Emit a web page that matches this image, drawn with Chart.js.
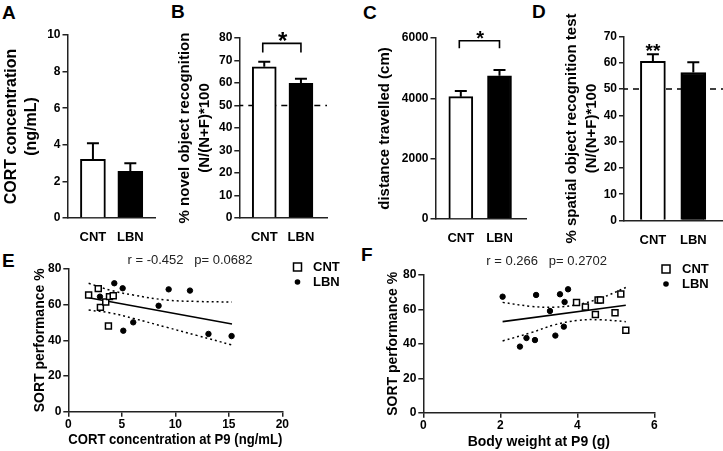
<!DOCTYPE html>
<html>
<head>
<meta charset="utf-8">
<script src="https://cdn.jsdelivr.net/npm/chart.js@4.4.0/dist/chart.umd.min.js"></script>
<style>
  body { margin: 0; background: #fff; width: 723px; height: 451px; position: relative; overflow: hidden; font-family: 'Liberation Sans', Arial, sans-serif; }
  canvas { position: absolute; }
  .lbl { position: absolute; font-weight: bold; font-size: 19px; line-height: 1; color: #000; }
</style>
</head>
<body>
<div class="lbl" style="left:2px;top:3px">A</div>
<div class="lbl" style="left:171px;top:2px">B</div>
<div class="lbl" style="left:363px;top:3px">C</div>
<div class="lbl" style="left:532px;top:2px">D</div>
<div class="lbl" style="left:2px;top:251px">E</div>
<div class="lbl" style="left:361px;top:245px">F</div>

<canvas id="cA" width="165" height="250" style="left:0;top:0"></canvas>
<canvas id="cB" width="170" height="250" style="left:165px;top:0"></canvas>
<canvas id="cC" width="192" height="250" style="left:340px;top:0"></canvas>
<canvas id="cD" width="191" height="250" style="left:532px;top:0"></canvas>
<canvas id="cE" width="360" height="206" style="left:0;top:245px"></canvas>
<canvas id="cF" width="363" height="206" style="left:360px;top:245px"></canvas>

<script>
// groups
const groups = ['CNT', 'LBN'];

// bar panels: mean and SEM
const cortMean = [3.21, 2.55];
const cortSem = [0.87, 0.44];
const norMean = [67.2, 59.9];
const norSem = [2.3, 2.0];
const distMean = [4054, 4750];
const distSem = [189, 190];
const sorMean = [60.6, 56.3];
const sorSem = [2.6, 3.9];

// E: SORT vs CORT at P9
const eCnt = [[1.9, 65.4], [2.8, 69.0], [3.0, 58.5], [3.5, 61.5], [3.85, 64.5], [4.2, 65.0], [3.75, 48.0]];
const eLbn = [[2.96, 64.5], [4.3, 72.0], [5.08, 69.2], [6.07, 50.1], [5.14, 45.4], [8.44, 59.4], [9.38, 68.6], [11.37, 67.9], [13.1, 43.6], [15.26, 42.4]];
const eFit = [[1.9, 63.9], [15.3, 49.2]];
const eUpper = [[1.9, 72.0], [4.0, 68.0], [6.07, 65.4], [9.2, 62.6], [12.0, 61.8], [15.3, 61.5]];
const eLower = [[1.9, 57.0], [4.0, 55.3], [6.07, 52.3], [9.2, 47.3], [12.0, 42.8], [15.3, 37.4]];

// F: SORT vs body weight at P9
const fCnt = [[3.98, 64.0], [4.21, 61.4], [4.47, 57.0], [4.54, 65.5], [4.6, 65.5], [4.98, 58.1], [5.13, 69.0], [5.26, 47.9]];
const fLbn = [[2.06, 67.4], [2.51, 38.4], [2.68, 43.4], [2.9, 42.2], [2.93, 68.4], [3.29, 59.1], [3.43, 44.8], [3.55, 68.8], [3.65, 50.0], [3.67, 64.3], [3.76, 71.7]];
const fFit = [[2.06, 52.9], [5.26, 62.4]];
const fUpper = [[2.06, 64.1], [2.8, 61.8], [3.4, 61.3], [4.0, 62.8], [4.6, 66.5], [5.26, 72.7]];
const fLower = [[2.06, 41.7], [2.8, 46.5], [3.4, 51.0], [4.0, 53.6], [4.6, 54.0], [5.26, 52.9]];

Chart.defaults.font.family = "'Liberation Sans', Arial, sans-serif";
Chart.defaults.color = '#000';
Chart.defaults.animation = false;

const AXIS = '#222';
const toXY = (arr) => arr.map(([x, y]) => ({ x, y }));

const barExtras = {
  id: 'barExtras',
  afterDatasetsDraw(chart, args, opts) {
    const { ctx, scales: { x, y } } = chart;
    ctx.save();
    ctx.strokeStyle = '#000';
    ctx.lineWidth = 2;
    opts.mean.forEach((m, i) => {
      const px = x.getPixelForValue(i);
      const top = y.getPixelForValue(m + opts.sem[i]);
      const base = y.getPixelForValue(m);
      ctx.beginPath();
      ctx.moveTo(px, base);
      ctx.lineTo(px, top);
      ctx.moveTo(px - 6, top);
      ctx.lineTo(px + 6, top);
      ctx.stroke();
    });
    if (opts.bracket) {
      const [yTop, yLeg] = opts.bracket;
      const x0 = x.getPixelForValue(0) - 1.5, x1 = x.getPixelForValue(1);
      const t = y.getPixelForValue(yTop), l = y.getPixelForValue(yLeg);
      ctx.lineWidth = 1.6;
      ctx.beginPath();
      ctx.moveTo(x0, l);
      ctx.lineTo(x0, t);
      ctx.lineTo(x1, t);
      ctx.lineTo(x1, l);
      ctx.stroke();
    }
    if (opts.star) {
      const s = opts.star;
      ctx.font = 'bold ' + s.size + 'px ' + Chart.defaults.font.family;
      ctx.fillStyle = '#000';
      ctx.textAlign = 'center';
      ctx.textBaseline = 'alphabetic';
      ctx.fillText(s.text, x.getPixelForValue(s.at), y.getPixelForValue(s.y) + s.size * 0.57);
    }
    ctx.restore();
  }
};

function barPanel(id, o) {
  const datasets = [{
    type: 'bar',
    data: o.mean.map((v, i) => ({ x: i, y: v })),
    backgroundColor: ['#fff', '#000'],
    borderColor: '#000',
    borderWidth: 2,
    barThickness: o.barW,
    order: 0
  }];
  if (o.chance !== undefined) {
    datasets.push({
      type: 'line',
      data: [{ x: o.xMin, y: o.chance }, { x: o.xMax, y: o.chance }],
      borderColor: '#000',
      borderWidth: 1.6,
      borderDash: [6, 5],
      borderDashOffset: 2,
      pointRadius: 0,
      order: 1
    });
  }
  new Chart(document.getElementById(id), {
    data: { datasets },
    options: {
      responsive: false,
      devicePixelRatio: 1,
      layout: { padding: { top: o.padTop, right: o.padRight, left: 0, bottom: 0 } },
      plugins: {
        legend: { display: false },
        tooltip: { enabled: false },
        barExtras: { mean: o.mean, sem: o.sem, bracket: o.bracket, star: o.star }
      },
      scales: {
        x: {
          type: 'linear',
          offset: false,
          min: o.xMin,
          max: o.xMax,
          afterBuildTicks: (s) => { s.ticks = groups.map((g, i) => ({ value: i })); },
          afterFit: (s) => { s.height = o.xH; },
          ticks: { callback: (v) => groups[v], font: { size: 13, weight: 'bold' }, padding: 12, maxRotation: 0 },
          grid: { drawOnChartArea: false, drawTicks: false },
          border: { color: AXIS, width: 1.5 }
        },
        y: {
          min: 0,
          max: o.yMax,
          afterFit: (s) => { s.width = o.yW; },
          ticks: { stepSize: o.step, font: { size: 12, weight: 'bold' }, padding: 2, callback: (v) => String(v) },
          grid: { drawOnChartArea: false, drawTicks: true, tickLength: 5, color: AXIS, lineWidth: 1.5 },
          border: { color: AXIS, width: 1.5 },
          title: {
            display: true,
            text: o.title,
            font: { size: o.titleSize, weight: 'bold', lineHeight: o.titleLH },
            padding: { top: o.titlePad, bottom: 0 }
          }
        }
      }
    },
    plugins: [barExtras]
  });
}

barPanel('cA', {
  mean: cortMean, sem: cortSem, yMax: 10, step: 2, xMin: -0.68, xMax: 1.66,
  padTop: 35, padRight: 10, yW: 67.5, xH: 32, barW: 25,
  title: ['CORT concentration', '(ng/mL)'], titleSize: 16, titleLH: 1.25, titlePad: 2
});
barPanel('cB', {
  mean: norMean, sem: norSem, yMax: 80, step: 10, xMin: -0.68, xMax: 1.71,
  padTop: 38, padRight: 8, yW: 74.3, xH: 32, barW: 24, chance: 50,
  bracket: [77.6, 73.6], star: { text: '*', at: 0.5, y: 81.3, size: 24 },
  title: ['% novel object recognition', '(N/(N+F)*100'], titleSize: 15, titleLH: 1.333, titlePad: 10
});
barPanel('cC', {
  mean: distMean, sem: distSem, yMax: 6000, step: 2000, xMin: -0.654, xMax: 1.685,
  padTop: 38, padRight: 6, yW: 95.5, xH: 31, barW: 24,
  bracket: [5911, 5659], star: { text: '*', at: 0.5, y: 6133, size: 20 },
  title: 'distance travelled (cm)', titleSize: 15, titleLH: 1.25, titlePad: 35.6
});
barPanel('cD', {
  mean: sorMean, sem: sorSem, yMax: 70, step: 10, xMin: -0.715, xMax: 1.735,
  padTop: 36.5, padRight: 0, yW: 92, xH: 29.5, barW: 25, chance: 50,
  star: { text: '**', at: 0, y: 66.5, size: 19 },
  title: ['% spatial object recognition test', '(N/(N+F)*100'], titleSize: 15, titleLH: 1.333, titlePad: 30
});

const scatterExtras = {
  id: 'scatterExtras',
  afterDraw(chart, args, opts) {
    const { ctx } = chart;
    ctx.save();
    ctx.fillStyle = '#222';
    ctx.font = '13px ' + Chart.defaults.font.family;
    ctx.textAlign = 'center';
    ctx.textBaseline = 'middle';
    ctx.fillText(opts.stat, opts.statX, opts.statY);
    // legend
    const L = opts.legend;
    ctx.strokeStyle = '#000';
    ctx.lineWidth = 1.5;
    ctx.fillStyle = '#fff';
    ctx.fillRect(L.x - 4, L.y - 4, 8, 8);
    ctx.strokeRect(L.x - 4, L.y - 4, 8, 8);
    ctx.fillStyle = '#000';
    ctx.beginPath();
    ctx.arc(L.x, L.y + L.gap, 2.8, 0, Math.PI * 2);
    ctx.fill();
    ctx.font = 'bold 13px ' + Chart.defaults.font.family;
    ctx.textAlign = 'left';
    ctx.fillText(groups[0], L.tx, L.y);
    ctx.fillText(groups[1], L.tx, L.y + L.gap);
    ctx.restore();
  }
};

function scatterPanel(id, o) {
  const band = (pts) => ({
    type: 'line', data: toXY(pts), borderColor: '#000', borderWidth: 1.5, borderDash: [2, 3],
    pointRadius: 0, tension: 0.4, showLine: true, order: 2
  });
  new Chart(document.getElementById(id), {
    type: 'scatter',
    data: {
      datasets: [
        { label: groups[0], data: toXY(o.cnt), pointStyle: 'rect', pointRadius: 4.2, backgroundColor: '#fff', borderColor: '#000', borderWidth: 1.5, order: 0 },
        { label: groups[1], data: toXY(o.lbn), pointStyle: 'circle', pointRadius: 2.7, backgroundColor: '#000', borderColor: '#000', borderWidth: 1, order: 0 },
        { type: 'line', data: toXY(o.fit), borderColor: '#000', borderWidth: 1.6, pointRadius: 0, showLine: true, order: 1 },
        band(o.upper),
        band(o.lower)
      ]
    },
    options: {
      responsive: false,
      devicePixelRatio: 1,
      layout: { padding: { top: o.padTop, right: o.padRight, left: 0, bottom: 0 } },
      plugins: {
        legend: { display: false },
        tooltip: { enabled: false },
        scatterExtras: o.extras
      },
      scales: {
        x: {
          min: 0, max: o.xMax,
          afterFit: (s) => { s.height = o.xH; },
          ticks: { stepSize: o.xStep, font: { size: 12, weight: 'bold' }, padding: 1, maxRotation: 0 },
          grid: { drawOnChartArea: false, drawTicks: true, tickLength: 5, color: AXIS, lineWidth: 1.5 },
          border: { color: AXIS, width: 1.5 },
          title: { display: true, text: o.xTitle, font: { size: 14, weight: 'bold', lineHeight: 1.2 }, padding: { top: 0, bottom: o.xTitlePad } }
        },
        y: {
          min: 0, max: 80,
          afterFit: (s) => { s.width = o.yW; },
          ticks: { stepSize: 20, font: { size: 12, weight: 'bold' }, padding: 2 },
          grid: { drawOnChartArea: false, drawTicks: true, tickLength: 5, color: AXIS, lineWidth: 1.5 },
          border: { color: AXIS, width: 1.5 },
          title: { display: true, text: 'SORT performance %', font: { size: 14, weight: 'bold', lineHeight: 1.2 }, padding: { top: o.yTitlePad, bottom: 0 } }
        }
      }
    },
    plugins: [scatterExtras]
  });
}

scatterPanel('cE', {
  cnt: eCnt, lbn: eLbn, fit: eFit, upper: eUpper, lower: eLower,
  xMax: 20, xStep: 5, padTop: 24, padRight: 77.7, yW: 68.3, xH: 39.3,
  xTitle: 'CORT concentration at P9 (ng/mL)', xTitlePad: 2.6, yTitlePad: 31.6,
  extras: { stat: 'r = -0.452   p= 0.0682', statX: 190, statY: 15, legend: { x: 297.5, y: 22, gap: 15, tx: 313 } }
});
scatterPanel('cF', {
  cnt: fCnt, lbn: fLbn, fit: fFit, upper: fUpper, lower: fLower,
  xMax: 6, xStep: 2, padTop: 30, padRight: 68.7, yW: 63.3, xH: 38.3,
  xTitle: 'Body weight at P9 (g)', xTitlePad: 0.9, yTitlePad: 24.6,
  extras: { stat: 'r = 0.266   p= 0.2702', statX: 186.7, statY: 16.7, legend: { x: 306, y: 24, gap: 15, tx: 322 } }
});
</script>
</body>
</html>
